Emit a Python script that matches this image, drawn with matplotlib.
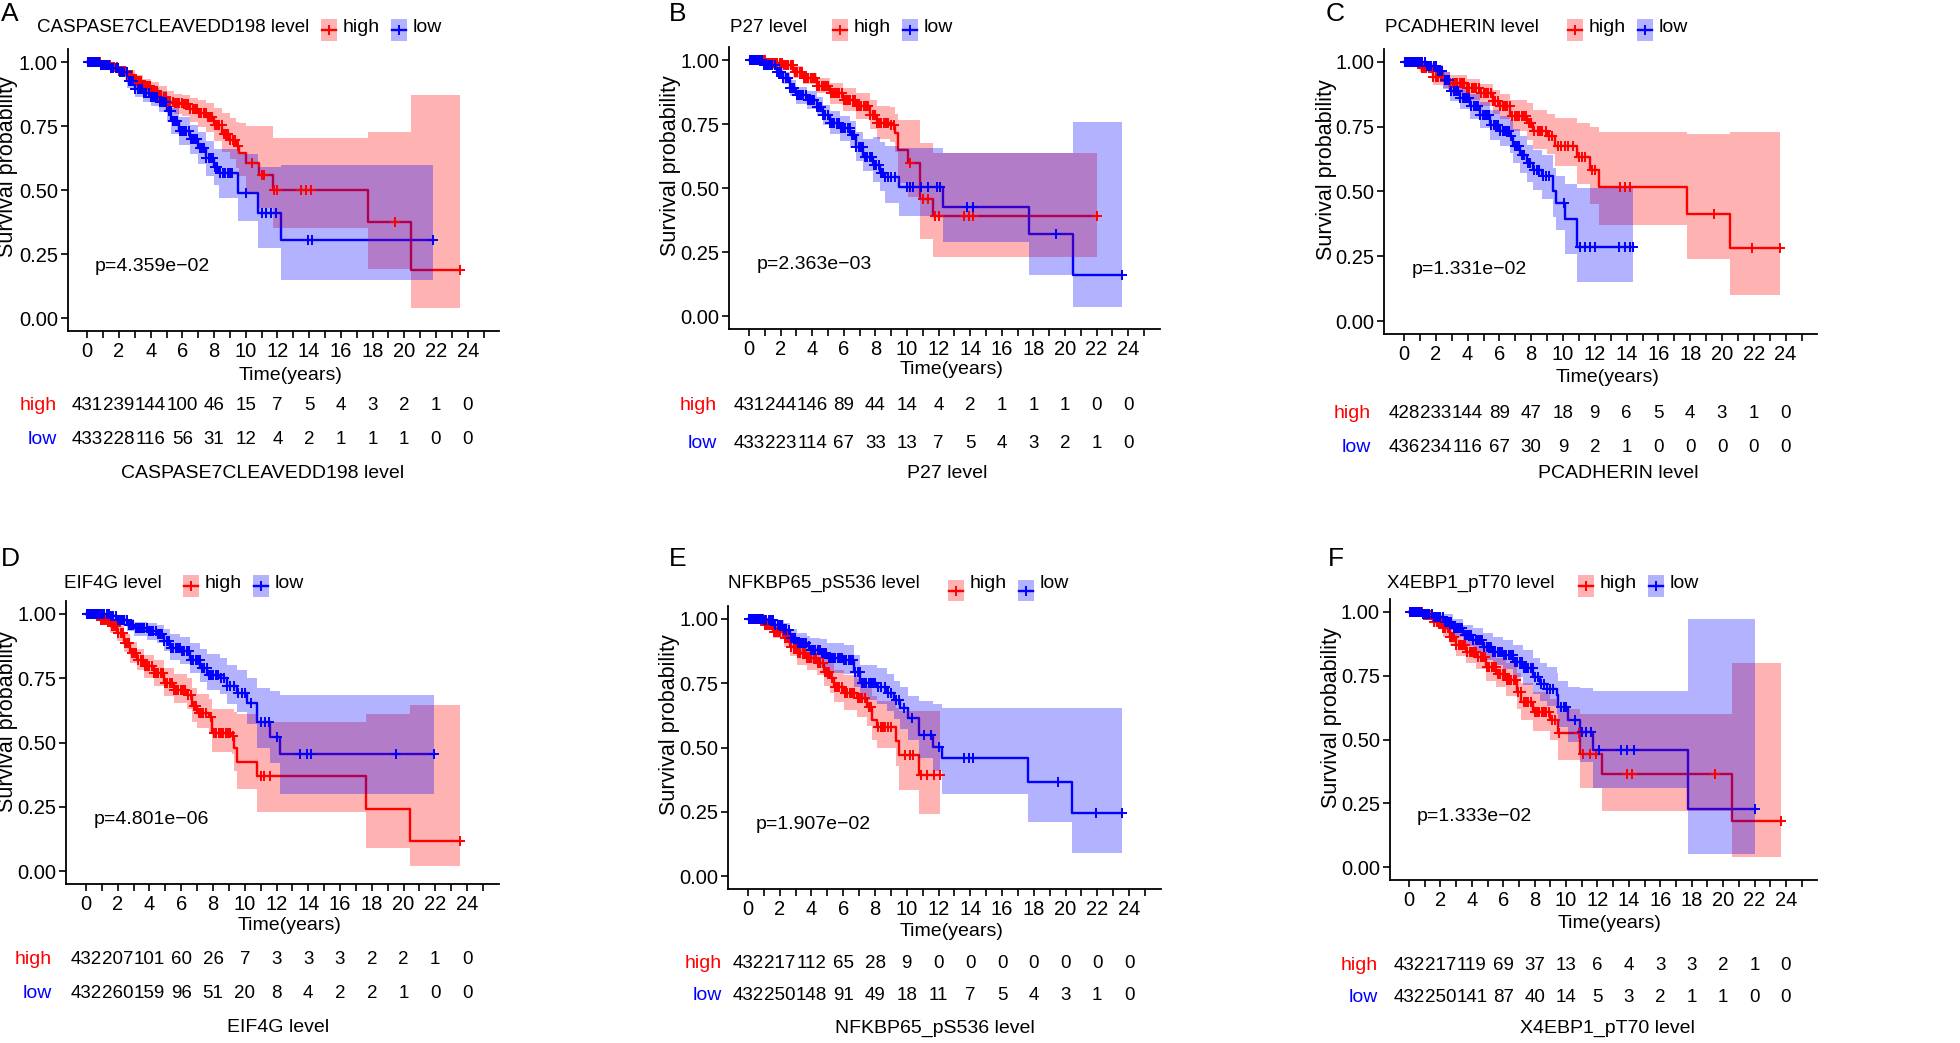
# km_panels.py
# 6 个 Kaplan-Meier 生存曲线面板 (高/低表达分组), 带置信区间和风险表
import numpy as np
import matplotlib
matplotlib.use("Agg")
import matplotlib.pyplot as plt
import matplotlib.transforms as mtrans
from matplotlib.patches import Rectangle

plt.rcParams['font.family'] = ['Liberation Sans', 'DejaVu Sans']

# ---------------- 数据 ----------------
# 每个节点: (时间(年), 生存率, 置信下限, 置信上限), 阶梯(post)
genes = ["CASPASE7CLEAVEDD198", "P27", "PCADHERIN", "EIF4G", "NFKBP65_pS536", "X4EBP1_pT70"]
pvals = ["p=4.359e\u221202", "p=2.363e\u221203", "p=1.331e\u221202",
         "p=4.801e\u221206", "p=1.907e\u221202", "p=1.333e\u221202"]
risk_times = [0, 2, 4, 6, 8, 10, 12, 14, 16, 18, 20, 22, 24]

# A
a_high = [(0, 1.0, 1.0, 1.0), (0.8, 0.99, 0.98, 1.0), (1.5, 0.98, 0.965, 0.995), (2.0, 0.965, 0.945, 0.985),
          (2.5, 0.95, 0.925, 0.97), (3.0, 0.925, 0.895, 0.95), (3.5, 0.905, 0.87, 0.935), (4.0, 0.885, 0.85, 0.92),
          (4.5, 0.865, 0.83, 0.905), (5.0, 0.845, 0.805, 0.885), (5.5, 0.84, 0.795, 0.875), (6.0, 0.835, 0.79, 0.87),
          (6.5, 0.815, 0.765, 0.86), (7.0, 0.80, 0.745, 0.85), (7.5, 0.785, 0.725, 0.84), (8.0, 0.755, 0.69, 0.82),
          (8.5, 0.72, 0.65, 0.80), (9.0, 0.695, 0.62, 0.78), (9.4, 0.67, 0.585, 0.765), (9.6, 0.645, 0.555, 0.76),
          (10.0, 0.605, 0.49, 0.75), (10.85, 0.557, 0.43, 0.75), (11.7, 0.50, 0.35, 0.705),
          (17.7, 0.375, 0.19, 0.725), (20.4, 0.186, 0.04, 0.87)]
a_high_end = 23.5
a_high_cens = [0.05, 0.1, 0.16, 0.22, 0.3, 0.37, 0.45, 0.55, 0.66, 0.78, 0.9, 1.02, 1.15, 1.3, 1.42, 1.57, 1.7,
               1.86, 2.0, 2.13, 2.28, 2.41, 2.57, 2.7, 2.84, 3.0, 3.12, 3.27, 3.4, 3.56, 3.69, 3.83, 3.98, 4.12,
               4.26, 4.4, 4.55, 4.68, 4.83, 4.97, 5.1, 5.25, 5.38, 5.53, 5.67, 5.8, 5.95, 6.08, 6.23, 6.36, 6.5,
               6.65, 6.78, 6.93, 7.06, 7.2, 7.35, 7.48, 7.63, 7.77, 7.9, 8.05, 8.18, 8.33, 8.47, 8.6, 8.75, 8.88,
               9.03, 9.17, 9.3, 9.5, 10.4, 11.0, 11.15, 11.8, 11.95, 13.5, 13.8, 14.1, 19.4, 23.5]
a_low = [(0, 1.0, 1.0, 1.0), (0.8, 0.99, 0.98, 1.0), (1.5, 0.975, 0.96, 0.99), (2.0, 0.96, 0.94, 0.98),
         (2.5, 0.925, 0.90, 0.95), (3.0, 0.895, 0.865, 0.925), (3.5, 0.88, 0.845, 0.91), (4.0, 0.865, 0.83, 0.90),
         (4.5, 0.845, 0.805, 0.885), (5.0, 0.81, 0.765, 0.85), (5.3, 0.77, 0.72, 0.82), (5.8, 0.73, 0.675, 0.785),
         (6.5, 0.70, 0.64, 0.755), (7.0, 0.665, 0.60, 0.725), (7.5, 0.625, 0.555, 0.69), (8.0, 0.59, 0.52, 0.66),
         (8.3, 0.566, 0.47, 0.66), (9.5, 0.49, 0.38, 0.64), (10.75, 0.41, 0.275, 0.59), (12.2, 0.306, 0.15, 0.596)]
a_low_end = 21.8
a_low_cens = [0.04, 0.09, 0.14, 0.2, 0.27, 0.35, 0.43, 0.52, 0.63, 0.74, 0.86, 0.98, 1.1, 1.24, 1.37, 1.51, 1.65,
              1.79, 1.93, 2.07, 2.2, 2.34, 2.48, 2.62, 2.76, 2.9, 3.04, 3.17, 3.31, 3.45, 3.6, 3.73, 3.87, 4.01,
              4.15, 4.29, 4.43, 4.57, 4.71, 4.85, 4.99, 5.13, 5.27, 5.41, 5.55, 5.69, 5.83, 5.97, 6.11, 6.25,
              6.39, 6.53, 6.67, 6.81, 6.95, 7.09, 7.23, 7.37, 7.51, 7.65, 7.79, 7.93, 8.07, 8.21, 8.4, 8.55,
              8.7, 8.85, 9.0, 9.15, 10.0, 11.0, 11.3, 11.6, 11.9, 13.9, 14.2, 21.8]
a_risk_high = [431, 239, 144, 100, 46, 15, 7, 5, 4, 3, 2, 1, 0]
a_risk_low = [433, 228, 116, 56, 31, 12, 4, 2, 1, 1, 1, 0, 0]

# B
b_high = [(0, 1.0, 1.0, 1.0), (1.0, 0.99, 0.98, 1.0), (2.17, 0.98, 0.965, 0.995), (2.8, 0.954, 0.93, 0.975),
          (3.44, 0.93, 0.905, 0.95), (4.28, 0.90, 0.87, 0.93), (5.1, 0.87, 0.83, 0.91), (5.97, 0.845, 0.80, 0.89),
          (6.8, 0.82, 0.77, 0.87), (7.65, 0.785, 0.73, 0.845), (8.08, 0.753, 0.69, 0.82), (8.9, 0.746, 0.68, 0.815),
          (9.24, 0.713, 0.64, 0.79), (9.45, 0.648, 0.52, 0.766), (10.04, 0.596, 0.465, 0.766),
          (10.82, 0.457, 0.30, 0.674), (11.66, 0.392, 0.232, 0.635)]
b_high_end = 22.0
b_high_cens = [0.05, 0.1, 0.15, 0.21, 0.28, 0.36, 0.44, 0.53, 0.64, 0.75, 0.87, 0.99, 1.12, 1.25, 1.39, 1.52,
               1.66, 1.8, 1.94, 2.08, 2.22, 2.36, 2.5, 2.64, 2.78, 2.92, 3.06, 3.2, 3.34, 3.48, 3.62, 3.76, 3.9,
               4.04, 4.18, 4.32, 4.46, 4.6, 4.74, 4.88, 5.02, 5.16, 5.3, 5.44, 5.58, 5.72, 5.86, 6.0, 6.14, 6.28,
               6.42, 6.56, 6.7, 6.84, 6.98, 7.12, 7.26, 7.4, 7.54, 7.68, 7.82, 7.96, 8.1, 8.24, 8.38, 8.52, 8.66,
               8.8, 9.0, 9.15, 10.2, 11.0, 11.3, 11.8, 12.0, 13.6, 13.9, 14.2, 22.0]
b_low = [(0, 1.0, 1.0, 1.0), (0.9, 0.98, 0.965, 0.995), (1.75, 0.954, 0.935, 0.975), (2.17, 0.93, 0.905, 0.955),
         (2.6, 0.89, 0.86, 0.92), (3.0, 0.863, 0.83, 0.895), (3.65, 0.844, 0.81, 0.88), (4.28, 0.818, 0.78, 0.855),
         (4.7, 0.785, 0.745, 0.825), (5.1, 0.753, 0.71, 0.80), (5.75, 0.733, 0.685, 0.78), (6.4, 0.707, 0.655, 0.76),
         (6.8, 0.661, 0.605, 0.72), (7.23, 0.622, 0.565, 0.69), (7.87, 0.59, 0.525, 0.70), (8.29, 0.557, 0.49, 0.68),
         (8.6, 0.544, 0.44, 0.665), (9.5, 0.503, 0.39, 0.655), (12.25, 0.427, 0.29, 0.636),
         (17.73, 0.319, 0.16, 0.636), (20.48, 0.16, 0.035, 0.757)]
b_low_end = 23.6
b_low_cens = [0.04, 0.09, 0.14, 0.2, 0.26, 0.33, 0.41, 0.5, 0.6, 0.71, 0.83, 0.95, 1.08, 1.21, 1.35, 1.48, 1.62,
              1.76, 1.9, 2.04, 2.18, 2.32, 2.46, 2.6, 2.74, 2.88, 3.02, 3.16, 3.3, 3.44, 3.58, 3.72, 3.86, 4.0,
              4.14, 4.28, 4.42, 4.56, 4.7, 4.84, 4.98, 5.12, 5.26, 5.4, 5.54, 5.68, 5.82, 5.96, 6.1, 6.24, 6.38,
              6.52, 6.66, 6.8, 6.94, 7.08, 7.22, 7.36, 7.5, 7.64, 7.78, 7.92, 8.06, 8.2, 8.34, 8.48, 8.62, 8.8,
              9.0, 9.25, 10.0, 10.2, 10.4, 10.9, 11.3, 11.9, 12.1, 13.8, 14.2, 19.4, 23.6]
b_risk_high = [431, 244, 146, 89, 44, 14, 4, 2, 1, 1, 1, 0, 0]
b_risk_low = [433, 223, 114, 67, 33, 13, 7, 5, 4, 3, 2, 1, 0]

# C
c_high = [(0, 1.0, 1.0, 1.0), (1.0, 0.977, 0.96, 0.99), (1.84, 0.94, 0.91, 0.97), (2.47, 0.93, 0.90, 0.96),
          (2.9, 0.919, 0.88, 0.95), (3.94, 0.90, 0.855, 0.935), (4.78, 0.88, 0.83, 0.915), (5.6, 0.848, 0.80, 0.89),
          (6.04, 0.829, 0.78, 0.875), (6.67, 0.79, 0.735, 0.855), (7.71, 0.764, 0.70, 0.84),
          (8.13, 0.732, 0.665, 0.815), (8.97, 0.713, 0.645, 0.80), (9.5, 0.674, 0.60, 0.785),
          (10.86, 0.635, 0.53, 0.765), (11.7, 0.584, 0.45, 0.75), (12.26, 0.517, 0.37, 0.731),
          (17.77, 0.414, 0.24, 0.72), (20.5, 0.281, 0.10, 0.73)]
c_high_end = 23.64
c_high_cens = [0.05, 0.1, 0.16, 0.23, 0.31, 0.4, 0.5, 0.61, 0.73, 0.86, 0.99, 1.13, 1.27, 1.41, 1.56, 1.7, 1.85,
               2.0, 2.15, 2.3, 2.45, 2.6, 2.75, 2.9, 3.05, 3.2, 3.35, 3.5, 3.65, 3.8, 3.95, 4.1, 4.25, 4.4, 4.55,
               4.7, 4.85, 5.0, 5.15, 5.3, 5.45, 5.6, 5.75, 5.9, 6.05, 6.2, 6.35, 6.5, 6.65, 6.8, 6.95, 7.1, 7.25,
               7.4, 7.55, 7.7, 7.85, 8.0, 8.2, 8.4, 8.55, 8.7, 8.9, 9.1, 9.3, 9.7, 9.9, 10.1, 10.3, 10.6, 11.0,
               11.2, 11.4, 11.8, 12.0, 13.6, 13.9, 14.2, 19.5, 21.9, 23.64]
c_low = [(0, 1.0, 1.0, 1.0), (1.43, 0.983, 0.97, 0.995), (2.05, 0.964, 0.94, 0.99), (2.47, 0.93, 0.895, 0.96),
         (2.9, 0.887, 0.85, 0.92), (3.52, 0.861, 0.82, 0.90), (4.15, 0.829, 0.78, 0.875), (4.78, 0.796, 0.745, 0.845),
         (5.41, 0.758, 0.70, 0.815), (6.04, 0.732, 0.675, 0.79), (6.67, 0.713, 0.65, 0.775), (6.88, 0.674, 0.61, 0.74),
         (7.29, 0.642, 0.57, 0.715), (7.71, 0.61, 0.535, 0.68), (8.13, 0.584, 0.505, 0.66), (8.66, 0.558, 0.47, 0.64),
         (9.39, 0.50, 0.40, 0.59), (9.54, 0.455, 0.35, 0.56), (10.12, 0.394, 0.26, 0.53), (10.86, 0.285, 0.15, 0.515)]
c_low_end = 14.42
c_low_cens = [0.04, 0.09, 0.15, 0.21, 0.28, 0.36, 0.45, 0.55, 0.66, 0.78, 0.9, 1.03, 1.16, 1.3, 1.44, 1.58, 1.72,
              1.86, 2.0, 2.14, 2.28, 2.42, 2.56, 2.7, 2.84, 2.98, 3.12, 3.26, 3.4, 3.54, 3.68, 3.82, 3.96, 4.1,
              4.24, 4.38, 4.52, 4.66, 4.8, 4.94, 5.08, 5.22, 5.36, 5.5, 5.64, 5.78, 5.92, 6.06, 6.2, 6.34, 6.48,
              6.62, 6.76, 6.95, 7.1, 7.25, 7.4, 7.55, 7.8, 7.95, 8.2, 8.35, 8.5, 8.75, 8.9, 9.1, 10.05, 11.1,
              11.4, 11.7, 12.0, 13.5, 13.9, 14.2, 14.42]
c_risk_high = [428, 233, 144, 89, 47, 18, 9, 6, 5, 4, 3, 1, 0]
c_risk_low = [436, 234, 116, 67, 30, 9, 2, 1, 0, 0, 0, 0, 0]

# D
d_high = [(0, 1.0, 1.0, 1.0), (0.9, 0.978, 0.96, 0.995), (1.53, 0.952, 0.925, 0.975), (1.95, 0.926, 0.895, 0.955),
          (2.37, 0.887, 0.85, 0.92), (2.8, 0.848, 0.81, 0.89), (3.2, 0.822, 0.78, 0.865), (3.63, 0.796, 0.75, 0.84),
          (4.26, 0.77, 0.72, 0.82), (4.9, 0.731, 0.68, 0.79), (5.53, 0.705, 0.655, 0.765), (6.37, 0.686, 0.63, 0.75),
          (6.68, 0.64, 0.58, 0.71), (7.0, 0.614, 0.555, 0.69), (7.73, 0.60, 0.54, 0.67), (7.94, 0.536, 0.465, 0.63),
          (9.2, 0.526, 0.455, 0.63), (9.3, 0.478, 0.39, 0.62), (9.52, 0.426, 0.32, 0.61), (10.78, 0.368, 0.23, 0.58),
          (17.65, 0.24, 0.09, 0.61), (20.4, 0.118, 0.02, 0.645)]
d_high_end = 23.55
d_high_cens = [0.05, 0.1, 0.16, 0.22, 0.3, 0.38, 0.47, 0.57, 0.68, 0.8, 0.93, 1.06, 1.2, 1.34, 1.48, 1.62, 1.76,
               1.9, 2.04, 2.18, 2.32, 2.46, 2.6, 2.74, 2.88, 3.02, 3.16, 3.3, 3.44, 3.58, 3.72, 3.86, 4.0, 4.14,
               4.28, 4.42, 4.56, 4.7, 4.84, 4.98, 5.12, 5.26, 5.4, 5.54, 5.68, 5.82, 5.96, 6.1, 6.24, 6.45, 6.6,
               6.8, 6.95, 7.1, 7.25, 7.4, 7.55, 7.85, 8.05, 8.2, 8.35, 8.5, 8.65, 8.8, 8.95, 9.1, 9.25, 11.0,
               11.2, 11.6, 23.55]
d_low = [(0, 1.0, 1.0, 1.0), (1.53, 0.99, 0.975, 1.0), (1.95, 0.978, 0.96, 0.995), (2.58, 0.958, 0.935, 0.98),
         (3.0, 0.945, 0.915, 0.97), (3.84, 0.932, 0.90, 0.965), (4.47, 0.92, 0.885, 0.955), (4.9, 0.894, 0.855, 0.94),
         (5.32, 0.868, 0.82, 0.92), (5.95, 0.855, 0.805, 0.91), (6.58, 0.822, 0.77, 0.885), (7.2, 0.79, 0.735, 0.865),
         (7.63, 0.764, 0.705, 0.845), (8.47, 0.75, 0.69, 0.83), (8.89, 0.718, 0.65, 0.80), (9.52, 0.692, 0.62, 0.78),
         (10.15, 0.653, 0.57, 0.75), (10.78, 0.578, 0.48, 0.71), (11.6, 0.523, 0.42, 0.70), (12.2, 0.455, 0.30, 0.686)]
d_low_end = 21.9
d_low_cens = [0.04, 0.09, 0.15, 0.21, 0.28, 0.36, 0.45, 0.55, 0.66, 0.78, 0.9, 1.03, 1.16, 1.3, 1.44, 1.58, 1.72,
              1.86, 2.0, 2.14, 2.28, 2.42, 2.56, 2.7, 2.84, 2.98, 3.12, 3.26, 3.4, 3.54, 3.68, 3.82, 3.96, 4.1,
              4.24, 4.38, 4.52, 4.66, 4.8, 4.94, 5.08, 5.22, 5.36, 5.5, 5.64, 5.78, 5.92, 6.06, 6.2, 6.34, 6.48,
              6.62, 6.76, 6.9, 7.04, 7.18, 7.32, 7.46, 7.6, 7.74, 7.88, 8.02, 8.16, 8.3, 8.5, 8.7, 8.9, 9.1,
              9.3, 9.6, 9.8, 10.0, 10.4, 11.0, 11.3, 11.5, 12.0, 13.5, 13.9, 14.2, 19.5, 21.9]
d_risk_high = [432, 207, 101, 60, 26, 7, 3, 3, 3, 2, 2, 1, 0]
d_risk_low = [432, 260, 159, 96, 51, 20, 8, 4, 2, 2, 1, 0, 0]

# E
e_high = [(0, 1.0, 1.0, 1.0), (1.0, 0.977, 0.96, 0.99), (1.6, 0.95, 0.925, 0.975), (2.24, 0.925, 0.89, 0.96),
          (2.66, 0.892, 0.855, 0.93), (3.08, 0.866, 0.82, 0.91), (3.71, 0.847, 0.80, 0.89), (4.34, 0.827, 0.78, 0.875),
          (4.76, 0.795, 0.74, 0.85), (5.18, 0.769, 0.71, 0.83), (5.39, 0.737, 0.675, 0.80), (6.02, 0.711, 0.645, 0.78),
          (6.86, 0.691, 0.62, 0.765), (7.49, 0.659, 0.585, 0.74), (7.8, 0.607, 0.53, 0.70), (8.12, 0.578, 0.50, 0.68),
          (9.31, 0.525, 0.43, 0.655), (9.48, 0.471, 0.335, 0.64), (10.8, 0.393, 0.24, 0.64)]
e_high_end = 12.1
e_high_cens = [0.05, 0.1, 0.16, 0.22, 0.3, 0.38, 0.47, 0.57, 0.68, 0.8, 0.93, 1.06, 1.2, 1.34, 1.48, 1.62, 1.76,
               1.9, 2.04, 2.18, 2.32, 2.46, 2.6, 2.74, 2.88, 3.02, 3.16, 3.3, 3.44, 3.58, 3.72, 3.86, 4.0, 4.14,
               4.28, 4.42, 4.56, 4.7, 4.84, 4.98, 5.12, 5.26, 5.45, 5.6, 5.75, 5.9, 6.1, 6.25, 6.4, 6.55, 6.7,
               6.9, 7.05, 7.2, 7.35, 7.6, 7.75, 8.2, 8.35, 8.5, 8.65, 8.8, 9.0, 9.9, 10.2, 10.4, 10.9, 11.3,
               11.7, 12.1]
e_low = [(0, 1.0, 1.0, 1.0), (1.0, 0.996, 0.99, 1.0), (1.6, 0.977, 0.96, 0.995), (2.24, 0.957, 0.925, 0.985),
         (2.66, 0.925, 0.89, 0.96), (3.08, 0.905, 0.86, 0.945), (3.71, 0.895, 0.85, 0.935), (3.92, 0.879, 0.83, 0.925),
         (4.55, 0.866, 0.81, 0.92), (4.97, 0.847, 0.79, 0.905), (6.02, 0.84, 0.785, 0.90), (6.65, 0.795, 0.735, 0.86),
         (7.07, 0.75, 0.685, 0.82), (8.12, 0.737, 0.67, 0.81), (8.75, 0.711, 0.64, 0.785), (9.17, 0.685, 0.61, 0.76),
         (9.59, 0.652, 0.57, 0.735), (10.07, 0.613, 0.53, 0.70), (10.8, 0.549, 0.46, 0.68), (11.68, 0.503, 0.41, 0.67),
         (12.2, 0.458, 0.32, 0.655), (17.66, 0.364, 0.21, 0.655), (20.43, 0.244, 0.09, 0.655)]
e_low_end = 23.58
e_low_cens = [0.04, 0.09, 0.15, 0.21, 0.28, 0.36, 0.45, 0.55, 0.66, 0.78, 0.9, 1.03, 1.16, 1.3, 1.44, 1.58, 1.72,
              1.86, 2.0, 2.14, 2.28, 2.42, 2.56, 2.7, 2.84, 2.98, 3.12, 3.26, 3.4, 3.54, 3.68, 3.82, 3.96, 4.1,
              4.24, 4.38, 4.52, 4.66, 4.8, 4.94, 5.08, 5.22, 5.36, 5.5, 5.64, 5.78, 5.92, 6.06, 6.2, 6.34, 6.48,
              6.62, 6.76, 6.9, 7.04, 7.18, 7.32, 7.46, 7.6, 7.74, 7.88, 8.02, 8.2, 8.4, 8.6, 8.8, 9.0, 9.3, 9.5,
              9.8, 10.3, 11.1, 11.5, 12.0, 13.6, 13.9, 14.2, 19.5, 21.9, 23.58]
e_risk_high = [432, 217, 112, 65, 28, 9, 0, 0, 0, 0, 0, 0, 0]
e_risk_low = [432, 250, 148, 91, 49, 18, 11, 7, 5, 4, 3, 1, 0]

# F
f_high = [(0, 1.0, 1.0, 1.0), (0.9, 0.987, 0.975, 0.998), (1.53, 0.961, 0.94, 0.98), (2.17, 0.935, 0.90, 0.97),
          (2.6, 0.902, 0.865, 0.94), (3.02, 0.869, 0.825, 0.915), (3.66, 0.843, 0.80, 0.895), (4.29, 0.824, 0.775, 0.88),
          (4.93, 0.784, 0.73, 0.845), (5.57, 0.758, 0.705, 0.82), (6.2, 0.732, 0.67, 0.80), (6.85, 0.686, 0.62, 0.76),
          (7.16, 0.647, 0.575, 0.72), (7.9, 0.608, 0.535, 0.685), (8.97, 0.575, 0.50, 0.66), (9.5, 0.527, 0.42, 0.62),
          (10.88, 0.444, 0.31, 0.60), (12.27, 0.363, 0.22, 0.60), (20.56, 0.18, 0.04, 0.80)]
f_high_end = 23.68
f_high_cens = [0.05, 0.1, 0.16, 0.22, 0.3, 0.38, 0.47, 0.57, 0.68, 0.8, 0.93, 1.06, 1.2, 1.34, 1.48, 1.62, 1.76,
               1.9, 2.04, 2.18, 2.32, 2.46, 2.6, 2.74, 2.88, 3.02, 3.16, 3.3, 3.44, 3.58, 3.72, 3.86, 4.0, 4.14,
               4.28, 4.42, 4.56, 4.7, 4.84, 4.98, 5.12, 5.26, 5.4, 5.54, 5.68, 5.82, 5.96, 6.1, 6.24, 6.38, 6.52,
               6.66, 6.8, 6.95, 7.1, 7.3, 7.45, 7.6, 7.75, 8.0, 8.15, 8.3, 8.45, 8.6, 8.75, 8.9, 9.1, 9.3, 9.52,
               10.85, 11.1, 11.5, 11.9, 13.9, 14.2, 19.5, 23.68]
f_low = [(0, 1.0, 1.0, 1.0), (0.9, 0.993, 0.985, 1.0), (1.53, 0.98, 0.965, 0.995), (2.17, 0.961, 0.93, 0.99),
         (2.8, 0.935, 0.90, 0.97), (3.44, 0.908, 0.865, 0.95), (4.08, 0.889, 0.84, 0.935), (4.72, 0.863, 0.81, 0.915),
         (5.36, 0.843, 0.79, 0.90), (6.0, 0.83, 0.775, 0.89), (6.63, 0.804, 0.745, 0.87), (7.27, 0.778, 0.715, 0.85),
         (7.91, 0.745, 0.68, 0.82), (8.33, 0.719, 0.65, 0.80), (8.76, 0.699, 0.63, 0.785), (9.4, 0.673, 0.60, 0.76),
         (9.5, 0.627, 0.55, 0.73), (10.1, 0.575, 0.49, 0.705), (10.88, 0.529, 0.41, 0.70), (11.73, 0.46, 0.31, 0.69),
         (17.75, 0.229, 0.05, 0.97)]
f_low_end = 22.04
f_low_cens = [0.04, 0.09, 0.15, 0.21, 0.28, 0.36, 0.45, 0.55, 0.66, 0.78, 0.9, 1.03, 1.16, 1.3, 1.44, 1.58, 1.72,
              1.86, 2.0, 2.14, 2.28, 2.42, 2.56, 2.7, 2.84, 2.98, 3.12, 3.26, 3.4, 3.54, 3.68, 3.82, 3.96, 4.1,
              4.24, 4.38, 4.52, 4.66, 4.8, 4.94, 5.08, 5.22, 5.36, 5.5, 5.64, 5.78, 5.92, 6.06, 6.2, 6.34, 6.48,
              6.62, 6.76, 6.9, 7.04, 7.18, 7.32, 7.46, 7.6, 7.74, 7.88, 8.02, 8.2, 8.4, 8.6, 8.8, 9.0, 9.2, 9.7,
              9.85, 10.0, 10.6, 11.0, 11.3, 11.6, 12.1, 13.5, 13.9, 14.3, 22.04]
f_risk_high = [432, 217, 119, 69, 37, 13, 6, 4, 3, 3, 2, 1, 0]
f_risk_low = [432, 250, 141, 87, 40, 14, 5, 3, 2, 1, 1, 0, 0]

curves = [
    (a_high, a_high_end, a_high_cens, a_low, a_low_end, a_low_cens, a_risk_high, a_risk_low),
    (b_high, b_high_end, b_high_cens, b_low, b_low_end, b_low_cens, b_risk_high, b_risk_low),
    (c_high, c_high_end, c_high_cens, c_low, c_low_end, c_low_cens, c_risk_high, c_risk_low),
    (d_high, d_high_end, d_high_cens, d_low, d_low_end, d_low_cens, d_risk_high, d_risk_low),
    (e_high, e_high_end, e_high_cens, e_low, e_low_end, e_low_cens, e_risk_high, e_risk_low),
    (f_high, f_high_end, f_high_cens, f_low, f_low_end, f_low_cens, f_risk_high, f_risk_low),
]

# ---------------- 版式 (像素) ----------------
W, H = 1960, 1043
# box=(左, 上, 右, 下); leg: 标题x, 标题y, 红框x, 蓝框x, 框上, 框下; ylab=(x, y); risk=(high y, low y, 标题y, 标题x, 名称右x)
layout = [
    dict(letter="A", lx=1, ly=14, box=(67.6, 49.2, 499.4, 330.8), leg=(37, 27, 321, 391, 19, 41),
         ylab=(8, 167), ty=375, risk=(405, 439, 473, 263, 57)),
    dict(letter="B", lx=669, ly=14, box=(729.4, 47.2, 1159.8, 328.8), leg=(730, 27, 832, 902, 19, 41),
         ylab=(670, 166), ty=370, risk=(405, 443, 473, 947, 717)),
    dict(letter="C", lx=1326, ly=14, box=(1384.3, 49, 1817.4, 334), leg=(1385, 27, 1567, 1637, 19, 41),
         ylab=(1326, 170), ty=377, risk=(413, 447, 473, 1618, 1371)),
    dict(letter="D", lx=1, ly=559, box=(66.3, 601, 498.8, 884), leg=(64, 583, 183, 253, 575, 597),
         ylab=(8, 722), ty=925, risk=(960, 993, 1028, 278, 52)),
    dict(letter="E", lx=669, ly=559, box=(728.3, 606, 1160.8, 889), leg=(728, 583, 948, 1018, 580, 601),
         ylab=(669, 725), ty=932, risk=(963, 996, 1028, 935, 722)),
    dict(letter="F", lx=1328, ly=559, box=(1389.5, 599, 1817.4, 880), leg=(1387, 583, 1578, 1648, 575, 597),
         ylab=(1331, 718), ty=923, risk=(966, 998, 1028, 1607, 1378)),
]

RED, BLUE = "#FF0000", "#0000FF"
FS = 14        # 一般文字
FS_LEG = 13.5  # 图例标题
FS_TICK = 14.5 # 刻度
FS_RISK = 13.5 # 风险表数字

fig = plt.figure(figsize=(W / 100, H / 100), dpi=100)
ov = fig.add_axes([0, 0, 1, 1])
ov.set_xlim(0, W)
ov.set_ylim(H, 0)
ov.axis("off")


def step_value(knots, t):
    ts = [k[0] for k in knots]
    i = np.searchsorted(ts, t, side="right") - 1
    return knots[i][1]


def draw_group(ax, knots, end, cens, color):
    t = [k[0] for k in knots] + [end]
    s = [k[1] for k in knots] + [knots[-1][1]]
    lo = [k[2] for k in knots] + [knots[-1][2]]
    up = [k[3] for k in knots] + [knots[-1][3]]
    ax.step(t, s, where="post", color=color, lw=1.7, zorder=2)
    ax.fill_between(t, lo, up, step="post", color=color, alpha=0.3, lw=0, zorder=3)
    cy = [step_value(knots, c) for c in cens]
    ax.plot(cens, cy, ls="none", marker="+", ms=7, mew=1.4, color=color, zorder=4)


for i, lay in enumerate(layout):
    hi, hi_end, hi_c, lo, lo_end, lo_c, r_hi, r_lo = curves[i]
    l, t, r, b = lay["box"]
    ax = fig.add_axes([l / W, 1 - b / H, (r - l) / W, (b - t) / H])
    ax.patch.set_alpha(0)
    draw_group(ax, hi, hi_end, hi_c, RED)
    draw_group(ax, lo, lo_end, lo_c, BLUE)

    ax.set_xlim(-1.24, 26.0)
    ax.set_ylim(-0.05, 1.05)
    ax.set_xticks(range(0, 26))
    ax.set_xticklabels([str(v) if v % 2 == 0 and v <= 24 else "" for v in range(0, 26)])
    ax.set_yticks([0, 0.25, 0.5, 0.75, 1.0])
    ax.set_yticklabels(["0.00", "0.25", "0.50", "0.75", "1.00"])
    for sp in ["top", "right"]:
        ax.spines[sp].set_visible(False)
    for sp in ["left", "bottom"]:
        ax.spines[sp].set_linewidth(1.3)
    ax.tick_params(axis="both", length=5, width=1.2, labelsize=FS_TICK, colors="black")
    ax.tick_params(axis="x", pad=3)
    ax.tick_params(axis="y", pad=2)
    ax.text(0.5, 0.2, pvals[i], fontsize=FS, ha="left", va="center")

    # 面板字母和 y 轴标题
    ov.text(lay["lx"], lay["ly"], lay["letter"], fontsize=19, ha="left", va="center")
    ov.text(lay["ylab"][0], lay["ylab"][1], "Survival probability", rotation=90, fontsize=15.5,
            ha="center", va="center")

    # 图例
    tx, ty, rx, bx, ky0, ky1 = lay["leg"]
    ov.text(tx, ty, genes[i] + " level", fontsize=FS_LEG, ha="left", va="center")
    for kx, col, lab in [(rx, RED, "high"), (bx, BLUE, "low")]:
        ov.add_patch(Rectangle((kx, ky0), 16, ky1 - ky0, facecolor=col, alpha=0.3, lw=0))
        ym = (ky0 + ky1) / 2
        ov.plot([kx + 1, kx + 15], [ym, ym], color=col, lw=1.7)
        ov.plot([kx + 8], [ym], marker="+", ms=7, mew=1.4, color=col)
        ov.text(kx + 22, ty, lab, fontsize=FS, ha="left", va="center")

    # x 轴标题
    blend = mtrans.blended_transform_factory(ax.transData, ov.transData)
    ov.text(12.8, lay["ty"], "Time(years)", fontsize=FS, ha="center", va="center", transform=blend)

    # 风险表
    yh, yl, yt, xt, xn = lay["risk"]
    for tt, nh, nl in zip(risk_times, r_hi, r_lo):
        ov.text(tt, yh, str(nh), fontsize=FS_RISK, ha="center", va="center", transform=blend)
        ov.text(tt, yl, str(nl), fontsize=FS_RISK, ha="center", va="center", transform=blend)
    ov.text(xn, yh, "high", color=RED, fontsize=FS, ha="right", va="center")
    ov.text(xn, yl, "low", color=BLUE, fontsize=FS, ha="right", va="center")
    ov.text(xt, yt, genes[i] + " level", fontsize=FS, ha="center", va="center")

fig.savefig("out.png", dpi=100)
